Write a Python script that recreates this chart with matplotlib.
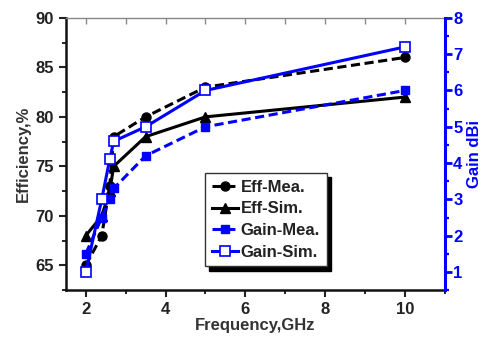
import matplotlib.pyplot as plt
from matplotlib.ticker import MultipleLocator

plt.rcParams['font.family'] = ['Liberation Sans', 'DejaVu Sans']
plt.rcParams['font.weight'] = 'bold'

# data
freq_eff_mea = [2.0, 2.4, 2.6, 2.7, 3.5, 5.0, 10.0]
eff_mea = [65.0, 68.0, 73.0, 78.0, 80.0, 83.0, 86.0]

freq_eff_sim = [2.0, 2.4, 2.6, 2.7, 3.5, 5.0, 10.0]
eff_sim = [68.0, 70.0, 72.5, 75.0, 78.0, 80.0, 82.0]

freq_gain_mea = [2.0, 2.4, 2.6, 2.7, 3.5, 5.0, 10.0]
gain_mea = [1.5, 2.5, 3.0, 3.3, 4.2, 5.0, 6.0]

freq_gain_sim = [2.0, 2.4, 2.6, 2.7, 3.5, 5.0, 10.0]
gain_sim = [1.0, 3.0, 4.1, 4.6, 5.0, 6.0, 7.2]

blue = '#0000ff'

fig = plt.figure(figsize=(4.84, 3.37), dpi=100)
ax = fig.add_axes([0.136, 0.139, 0.783, 0.808])
ax2 = ax.twinx()

l1, = ax.plot(freq_eff_mea, eff_mea, color='k', ls='--', lw=2.2,
              marker='o', ms=6.5, dashes=(3, 1.5), label='Eff-Mea.')
l2, = ax.plot(freq_eff_sim, eff_sim, color='k', ls='-', lw=2.2,
              marker='^', ms=7, label='Eff-Sim.')
l3, = ax2.plot(freq_gain_mea, gain_mea, color=blue, ls='--', lw=2.2,
               marker='s', ms=6, dashes=(3, 1.5), label='Gain-Mea.')
l4, = ax2.plot(freq_gain_sim, gain_sim, color=blue, ls='-', lw=2.2,
               marker='s', ms=6.5, mfc='white', mec=blue, mew=1.2,
               label='Gain-Sim.')

ax.set_xlim(1.5, 11)
ax.set_ylim(62.5, 90)
ax2.set_ylim(0.5, 8)

ax.xaxis.set_major_locator(MultipleLocator(2))
ax.xaxis.set_minor_locator(MultipleLocator(1))
ax.yaxis.set_major_locator(MultipleLocator(5))
ax.yaxis.set_minor_locator(MultipleLocator(2.5))
ax2.yaxis.set_major_locator(MultipleLocator(1))
ax2.yaxis.set_minor_locator(MultipleLocator(0.5))

ax.tick_params(axis='both', which='major', labelsize=12, width=1.5,
               length=5, direction='out', colors='#222222')
ax.tick_params(axis='both', which='minor', width=1.2, length=3,
               direction='out')
ax2.tick_params(axis='y', which='major', labelsize=12, width=2,
                length=5, colors=blue, pad=1)
ax2.tick_params(axis='y', which='minor', width=1.6, length=3, colors=blue)

for sp in ['left', 'bottom']:
    ax.spines[sp].set_linewidth(1.8)
    ax.spines[sp].set_color('#111111')
ax.spines['top'].set_color('#888888')
ax.spines['top'].set_linewidth(1.0)
ax2.spines['right'].set_color(blue)
ax2.spines['right'].set_linewidth(2.2)
ax2.spines['top'].set_visible(False)
ax2.spines['left'].set_visible(False)
ax2.spines['bottom'].set_visible(False)

# top ticks inward, like the reference
secx = ax.secondary_xaxis('top')
secx.set_xticks([2, 3, 4, 5, 6, 7, 8, 9, 10])
secx.tick_params(direction='in', length=4, width=1, colors='#888888',
                 labeltop=False)
secx.spines['top'].set_visible(False)

ax.set_xlabel('Frequency,GHz', fontsize=12, fontweight='bold',
              color='#333333', labelpad=1)
ax.set_ylabel('Efficiency,%', fontsize=12, fontweight='bold',
              color='#333333', labelpad=3)
ax2.set_ylabel('Gain dBi', fontsize=12, fontweight='bold', color=blue,
               labelpad=3)

leg = ax2.legend(handles=[l1, l2, l3, l4], loc='upper left',
                 bbox_to_anchor=(0.367, 0.43), borderaxespad=0,
                 fontsize=12, frameon=True, fancybox=False,
                 edgecolor='#333333', framealpha=1, handlelength=1.6,
                 handletextpad=0.15, labelspacing=0.4, borderpad=0.4,
                 shadow={'color': 'black', 'alpha': 1, 'ox': 3, 'oy': -3})
leg.get_frame().set_linewidth(1.0)
for t in leg.get_texts():
    t.set_fontweight('bold')
    t.set_color('#222222')

fig.savefig('out.png', dpi=100)
